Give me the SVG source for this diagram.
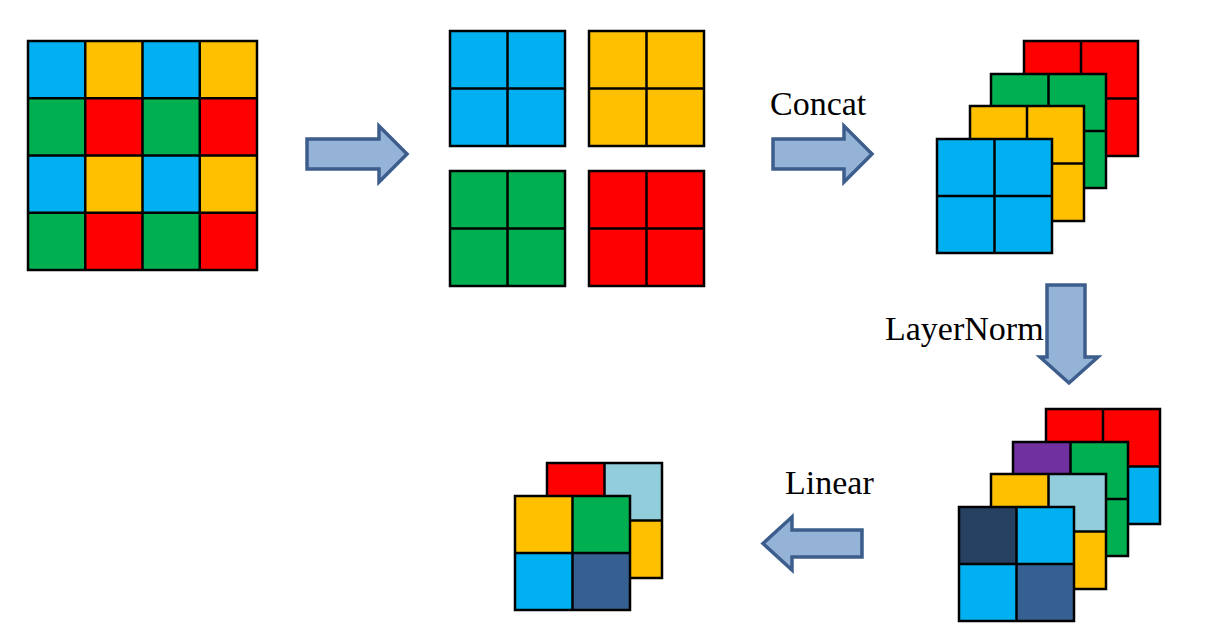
<svg xmlns="http://www.w3.org/2000/svg" width="1218" height="629" viewBox="0 0 1218 629">
<defs>
<style>
.c{stroke:#000;stroke-width:2.5}
.g{stroke:#000;stroke-width:2.5;fill:none}
.B{fill:#00B0F0}.O{fill:#FFC000}.G{fill:#00B050}.R{fill:#FF0000}.P{fill:#7030A0}.L{fill:#92CDDC}.N{fill:#254061}.D{fill:#366092}
.arr{fill:#95B3D7;stroke:#3D5E8C;stroke-width:3.5;stroke-linejoin:miter}
.t{font-family:"Liberation Serif","Times New Roman",serif;font-size:34px;fill:#000}
</style>
</defs>
<rect width="1218" height="629" fill="#fff"/>

<g id="input-grid">
<rect class="B" x="28" y="41" width="57.25" height="57.25"/><rect class="O" x="85.25" y="41" width="57.25" height="57.25"/><rect class="B" x="142.5" y="41" width="57.25" height="57.25"/><rect class="O" x="199.75" y="41" width="57.25" height="57.25"/>
<rect class="G" x="28" y="98.25" width="57.25" height="57.25"/><rect class="R" x="85.25" y="98.25" width="57.25" height="57.25"/><rect class="G" x="142.5" y="98.25" width="57.25" height="57.25"/><rect class="R" x="199.75" y="98.25" width="57.25" height="57.25"/>
<rect class="B" x="28" y="155.5" width="57.25" height="57.25"/><rect class="O" x="85.25" y="155.5" width="57.25" height="57.25"/><rect class="B" x="142.5" y="155.5" width="57.25" height="57.25"/><rect class="O" x="199.75" y="155.5" width="57.25" height="57.25"/>
<rect class="G" x="28" y="212.75" width="57.25" height="57.25"/><rect class="R" x="85.25" y="212.75" width="57.25" height="57.25"/><rect class="G" x="142.5" y="212.75" width="57.25" height="57.25"/><rect class="R" x="199.75" y="212.75" width="57.25" height="57.25"/>
<path class="g" d="M28,41H257V270H28Z M85.25,41V270 M142.5,41V270 M199.75,41V270 M28,98.25H257 M28,155.5H257 M28,212.75H257"/>
</g>

<g id="split-blue"><rect class="B" x="450" y="31" width="115" height="115"/><path class="g" d="M450,31h115v115h-115z M507.5,31v115 M450,88.5h115"/></g>
<g id="split-orange"><rect class="O" x="589" y="31" width="115" height="115"/><path class="g" d="M589,31h115v115h-115z M646.5,31v115 M589,88.5h115"/></g>
<g id="split-green"><rect class="G" x="450" y="171" width="115" height="115"/><path class="g" d="M450,171h115v115h-115z M507.5,171v115 M450,228.5h115"/></g>
<g id="split-red"><rect class="R" x="589" y="171" width="115" height="115"/><path class="g" d="M589,171h115v115h-115z M646.5,171v115 M589,228.5h115"/></g>

<g id="concat-stack">
<rect class="R" x="1024" y="41" width="114" height="115"/><path class="g" d="M1024,41h114v115h-114z M1081,41v115 M1024,98.5h114"/>
<rect class="G" x="991" y="74" width="115" height="114"/><path class="g" d="M991,74h115v114h-115z M1048.5,74v114 M991,131h115"/>
<rect class="O" x="970" y="106" width="114" height="115"/><path class="g" d="M970,106h114v115h-114z M1027,106v115 M970,163.5h114"/>
<rect class="B" x="937" y="139" width="115" height="114"/><path class="g" d="M937,139h115v114h-115z M994.5,139v114 M937,196h115"/>
</g>

<g id="norm-stack">
<rect class="R" x="1046" y="409" width="114" height="57.5"/><rect class="B" x="1046" y="466.5" width="114" height="57.5"/><path class="g" d="M1046,409h114v115h-114z M1103,409v115 M1046,466.5h114"/>
<rect class="G" x="1013" y="442" width="115" height="114"/><rect class="P" x="1013" y="442" width="57.5" height="57"/><path class="g" d="M1013,442h115v114h-115z M1070.5,442v114 M1013,499h115"/>
<rect class="O" x="991" y="474" width="115" height="115"/><rect class="L" x="1048.5" y="474" width="57.5" height="57.5"/><path class="g" d="M991,474h115v115h-115z M1048.5,474v115 M991,531.5h115"/>
<rect class="N" x="959" y="507" width="57.5" height="57"/><rect class="B" x="1016.5" y="507" width="57.5" height="57"/><rect class="B" x="959" y="564" width="57.5" height="57"/><rect class="D" x="1016.5" y="564" width="57.5" height="57"/><path class="g" d="M959,507h115v114h-115z M1016.5,507v114 M959,564h115"/>
</g>

<g id="linear-stack">
<rect class="R" x="547" y="463" width="57.5" height="57.5"/><rect class="L" x="604.5" y="463" width="57.5" height="57.5"/><rect class="O" x="604.5" y="520.5" width="57.5" height="57.5"/><path class="g" d="M547,463h115v115h-115z M604.5,463v115 M547,520.5h115"/>
<rect class="O" x="515" y="496" width="57.5" height="57"/><rect class="G" x="572.5" y="496" width="57.5" height="57"/><rect class="B" x="515" y="553" width="57.5" height="57"/><rect class="D" x="572.5" y="553" width="57.5" height="57"/><path class="g" d="M515,496h115v114h-115z M572.5,496v114 M515,553h115"/>
</g>

<g id="connectors">
<path class="arr" d="M307,139H379V126L407,154L379,182V169H307Z"/>
<path class="arr" d="M773,139H844V126L872,154L844,182V169H773Z"/>
<path class="arr" d="M1047,285H1085V357H1098L1069,383L1040,357H1047Z"/>
<path class="arr" d="M862,530H792V517L763,543.5L792,570V557H862Z"/>
</g>

<g id="labels">
<text class="t" x="770" y="115">Concat</text>
<text class="t" x="885" y="340">LayerNorm</text>
<text class="t" x="785" y="494">Linear</text>
</g>
</svg>
